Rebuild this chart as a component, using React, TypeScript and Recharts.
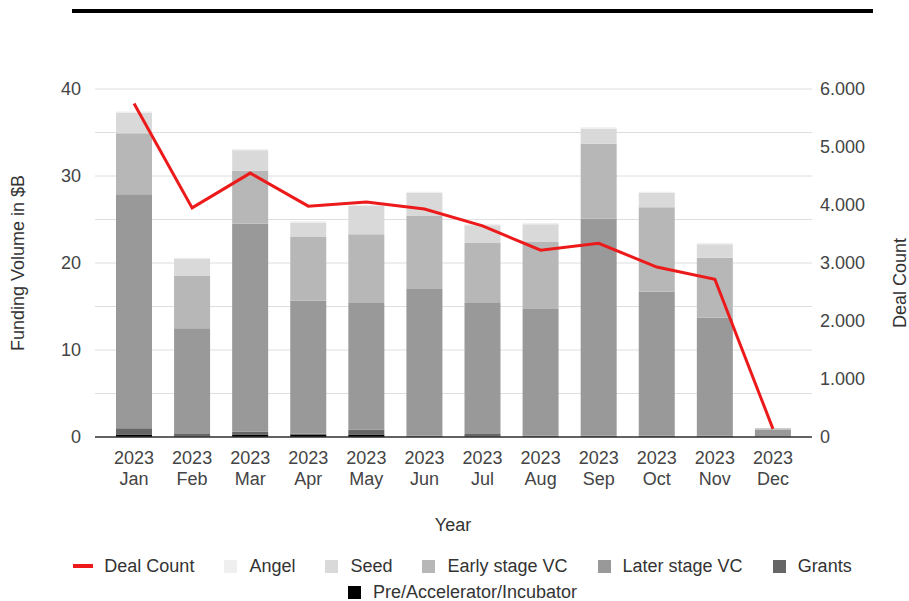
import React from 'react';
import { ComposedChart, Bar, Line, XAxis, YAxis, CartesianGrid, Customized } from 'recharts';

const months = ['Jan', 'Feb', 'Mar', 'Apr', 'May', 'Jun', 'Jul', 'Aug', 'Sep', 'Oct', 'Nov', 'Dec'];
const yearLabel = '2023';

const preAccel = [0.3, 0.05, 0.3, 0.3, 0.3, 0.05, 0.05, 0.05, 0.05, 0.05, 0.05, 0.02];
const grants = [0.7, 0.3, 0.3, 0.1, 0.55, 0.1, 0.3, 0.1, 0.1, 0.1, 0.1, 0.05];
const laterStage = [26.9, 12.15, 23.9, 15.3, 14.55, 16.85, 15.05, 14.55, 24.95, 16.55, 13.55, 0.78];
const earlyStage = [7.0, 6.0, 6.1, 7.3, 7.9, 8.4, 6.9, 7.7, 8.6, 9.7, 6.9, 0.15];
const seed = [2.35, 1.95, 2.35, 1.65, 3.25, 2.65, 2.05, 2.05, 1.75, 1.65, 1.55, 0.03];
const angel = [0.15, 0.15, 0.15, 0.15, 0.15, 0.15, 0.15, 0.15, 0.15, 0.15, 0.15, 0.01];
const dealCount = [5750, 3950, 4550, 3980, 4050, 3930, 3640, 3220, 3340, 2930, 2720, 140];

const leftTicks = [0, 5, 10, 15, 20, 25, 30, 35, 40];
const rightTicks = [0, 1000, 2000, 3000, 4000, 5000, 6000];

const data = months.map((m, i) => ({
  month: m,
  pre: preAccel[i],
  grants: grants[i],
  later: laterStage[i],
  early: earlyStage[i],
  seed: seed[i],
  angel: angel[i],
  deals: dealCount[i],
}));

const FONT = '"Liberation Sans", Arial, Helvetica, sans-serif';
const TEXT = '#444';
const FS = 18;

const legendItems = [
  { name: 'Deal Count', color: '#ec1a1a', line: true },
  { name: 'Angel', color: '#efefef' },
  { name: 'Seed', color: '#d9d9d9' },
  { name: 'Early stage VC', color: '#b7b7b7' },
  { name: 'Later stage VC', color: '#999999' },
  { name: 'Grants', color: '#666666' },
];

const XTick = (props: any) => {
  const { x, y, payload } = props;
  return (
    <text x={x} y={y} textAnchor="middle" fontFamily={FONT} fontSize={FS} fill={TEXT}>
      <tspan x={x} dy={27}>{yearLabel}</tspan>
      <tspan x={x} dy={21}>{payload.value}</tspan>
    </text>
  );
};

const fmtThousands = (v: number) => {
  const s = String(v);
  return s.length > 3 ? s.slice(0, s.length - 3) + '.' + s.slice(s.length - 3) : s;
};

const Titles = () => (
  <g fontFamily={FONT} fontSize={FS} fill="#333">
    <text x={18} y={263} textAnchor="middle" dominantBaseline="central" transform="rotate(-90,18,263)">
      Funding Volume in $B
    </text>
    <text x={900} y={283} textAnchor="middle" dominantBaseline="central" transform="rotate(-90,900,283)">
      Deal Count
    </text>
    <text x={453} y={525} textAnchor="middle" dominantBaseline="central">
      Year
    </text>
  </g>
);

const LegendEntry = ({ name, color, line }: { name: string; color: string; line?: boolean }) => (
  <div style={{ display: 'flex', alignItems: 'center', marginLeft: 15, marginRight: 15 }}>
    {line ? (
      <div style={{ width: 20, height: 4, background: color, marginRight: 11 }} />
    ) : (
      <div style={{ width: 13, height: 13, background: color, marginRight: 12 }} />
    )}
    <span>{name}</span>
  </div>
);

export default function App() {
  return (
    <div style={{ position: 'absolute', left: 0, top: 0, width: 909, height: 601, background: '#fff' }}>
      <div style={{ position: 'absolute', left: 72, top: 9, width: 801, height: 4, background: '#000' }} />
      <ComposedChart
        width={909}
        height={601}
        data={data}
        margin={{ top: 89, right: 0, bottom: 84, left: 0 }}
        barSize={36}
      >
        <CartesianGrid vertical={false} stroke="#dedede" yAxisId="left" />
        <XAxis
          dataKey="month"
          tick={<XTick />}
          tickLine={false}
          tickSize={0}
          tickMargin={0}
          axisLine={{ stroke: '#333', strokeWidth: 1.5 }}
          padding={{ left: 10, right: 10 }}
          height={80}
          interval={0}
        />
        <YAxis
          yAxisId="left"
          orientation="left"
          width={95}
          domain={[0, 40]}
          ticks={leftTicks}
          tickFormatter={(v: number) => (v % 10 === 0 ? String(v) : '')}
          axisLine={false}
          tickLine={false}
          tickMargin={8}
          tick={{ fontFamily: FONT, fontSize: FS, fill: TEXT }}
        />
        <YAxis
          yAxisId="right"
          orientation="right"
          width={97}
          domain={[0, 6000]}
          ticks={rightTicks}
          tickFormatter={fmtThousands}
          axisLine={false}
          tickLine={false}
          tickSize={0}
          tickMargin={8}
          tick={{ fontFamily: FONT, fontSize: FS, fill: TEXT, textAnchor: 'start' }}
        />
        <Bar yAxisId="left" dataKey="pre" stackId="a" fill="#000000" isAnimationActive={false} />
        <Bar yAxisId="left" dataKey="grants" stackId="a" fill="#666666" isAnimationActive={false} />
        <Bar yAxisId="left" dataKey="later" stackId="a" fill="#999999" isAnimationActive={false} />
        <Bar yAxisId="left" dataKey="early" stackId="a" fill="#b7b7b7" isAnimationActive={false} />
        <Bar yAxisId="left" dataKey="seed" stackId="a" fill="#d9d9d9" isAnimationActive={false} />
        <Bar yAxisId="left" dataKey="angel" stackId="a" fill="#efefef" isAnimationActive={false} />
        <Line
          yAxisId="right"
          type="linear"
          dataKey="deals"
          stroke="#ec1a1a"
          strokeWidth={3}
          dot={false}
          activeDot={false}
          isAnimationActive={false}
        />
        <Customized component={Titles} />
      </ComposedChart>
      <div
        style={{
          position: 'absolute',
          left: 8,
          top: 555,
          width: 909,
          fontFamily: FONT,
          fontSize: FS,
          color: '#333',
        }}
      >
        <div style={{ display: 'flex', justifyContent: 'center', alignItems: 'center', height: 22 }}>
          {legendItems.map((it, i) => (
            <LegendEntry key={i} name={it.name} color={it.color} line={it.line} />
          ))}
        </div>
        <div style={{ display: 'flex', justifyContent: 'center', alignItems: 'center', height: 22, marginTop: 4 }}>
          <LegendEntry name="Pre/Accelerator/Incubator" color="#000000" />
        </div>
      </div>
    </div>
  );
}
